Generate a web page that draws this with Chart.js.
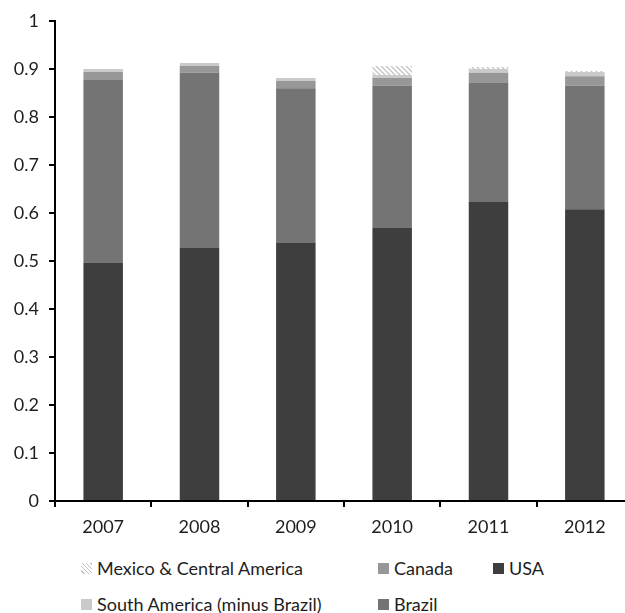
<!DOCTYPE html>
<html>
<head>
<meta charset="utf-8">
<script src="https://cdn.jsdelivr.net/npm/chart.js@4"></script>
<style>
  body { margin: 0; background: #fff; overflow: hidden; font-family: Lato, "Open Sans", sans-serif; }
  #wrap { position: relative; width: 625px; height: 613px; overflow: hidden; }
  #box { position: absolute; left: 0; top: 0; width: 633px; height: 545px; }
  #legend { position: absolute; left: 0; top: 556px; width: 625px; height: 57px; }
  .item { position: absolute; display: flex; align-items: center; font-size: 18px; line-height: 24px; color: #1e1e1e; white-space: nowrap; }
  .sw { width: 11px; height: 11px; margin-right: 5px; }
</style>
</head>
<body>
<div id="wrap">
  <div id="box"><canvas id="graphic"></canvas></div>
  <div id="legend"></div>
</div>
<script>
// categories and values (share of total)
var years = ['2007', '2008', '2009', '2010', '2011', '2012'];
var usa = [0.496, 0.527, 0.5375, 0.569, 0.623, 0.608];
var brazil = [0.381, 0.365, 0.3225, 0.296, 0.248, 0.257];
var canada = [0.017, 0.014, 0.015, 0.016, 0.021, 0.020];
var southAmerica = [0.006, 0.0065, 0.006, 0.0065, 0.008, 0.009];
var mexico = [0.0, 0.0, 0.0, 0.019, 0.004, 0.002];
var yTicks = [0, 0.1, 0.2, 0.3, 0.4, 0.5, 0.6, 0.7, 0.8, 0.9, 1];

// hatch pattern for Mexico & Central America
function makeHatch() {
  var c = document.createElement('canvas');
  c.width = 5; c.height = 5;
  var g = c.getContext('2d');
  g.fillStyle = '#fff';
  g.fillRect(0, 0, 5, 5);
  g.strokeStyle = '#c4c4c4';
  g.lineWidth = 1.3;
  g.beginPath();
  g.moveTo(-1, -1); g.lineTo(6, 6);
  g.moveTo(-1, 4); g.lineTo(1, 6);
  g.moveTo(4, -1); g.lineTo(6, 1);
  g.stroke();
  return c;
}

var ctx = document.getElementById('graphic').getContext('2d');
var hatch = ctx.createPattern(makeHatch(), 'repeat');

var datos = {
  labels: years,
  datasets: [
    { label: 'USA', data: usa, backgroundColor: '#3e3e3e' },
    { label: 'Brazil', data: brazil, backgroundColor: '#747474' },
    { label: 'Canada', data: canada, backgroundColor: '#979797' },
    { label: 'South America (minus Brazil)', data: southAmerica, backgroundColor: '#cacaca' },
    { label: 'Mexico & Central America', data: mexico, backgroundColor: hatch }
  ]
};

var fontSpec = { family: 'Lato, "Open Sans", sans-serif', size: 18 };

var opciones = {
  responsive: true,
  maintainAspectRatio: false,
  animation: false,
  layout: { padding: { top: 21, right: 0, left: 0, bottom: 0 } },
  datasets: { bar: { categoryPercentage: 1, barPercentage: 0.41, borderWidth: 0 } },
  plugins: { legend: { display: false }, tooltip: { enabled: false } },
  scales: {
    x: {
      stacked: true,
      offset: true,
      grid: { offset: true, drawOnChartArea: false, tickLength: 6, color: '#000', lineWidth: 2 },
      border: { color: '#000', width: 2 },
      ticks: { color: '#1e1e1e', font: fontSpec, padding: 9 },
      afterFit: function (s) { s.height = 44; }
    },
    y: {
      stacked: true,
      min: 0,
      max: 1,
      afterBuildTicks: function (s) { s.ticks = yTicks.map(function (v) { return { value: v }; }); },
      grid: { drawOnChartArea: false, tickLength: 6, color: '#000', lineWidth: 2 },
      border: { color: '#000', width: 2 },
      ticks: { color: '#1e1e1e', font: fontSpec, padding: 10,
        callback: function (v) { return String(Math.round(v * 10) / 10); } },
      afterFit: function (s) { s.width = 55; }
    }
  }
};

var miGrafico = new Chart(ctx, { type: 'bar', data: datos, options: opciones });

// legend, laid out like the original (column-major)
var legendItems = [
  { ds: 4, x: 81, y: 0 },
  { ds: 3, x: 81, y: 36 },
  { ds: 2, x: 378, y: 0 },
  { ds: 1, x: 378, y: 36 },
  { ds: 0, x: 493, y: 0 }
];
var leg = document.getElementById('legend');
legendItems.forEach(function (it) {
  var d = datos.datasets[it.ds];
  var el = document.createElement('div');
  el.className = 'item';
  el.style.left = it.x + 'px';
  el.style.top = it.y + 'px';
  var sw = document.createElement('span');
  sw.className = 'sw';
  if (it.ds === 4) {
    sw.style.background = 'repeating-linear-gradient(45deg, #fff 0 2px, #c4c4c4 2px 3px)';
  } else {
    sw.style.background = d.backgroundColor;
  }
  el.appendChild(sw);
  el.appendChild(document.createTextNode(d.label));
  leg.appendChild(el);
});
</script>
</body>
</html>
